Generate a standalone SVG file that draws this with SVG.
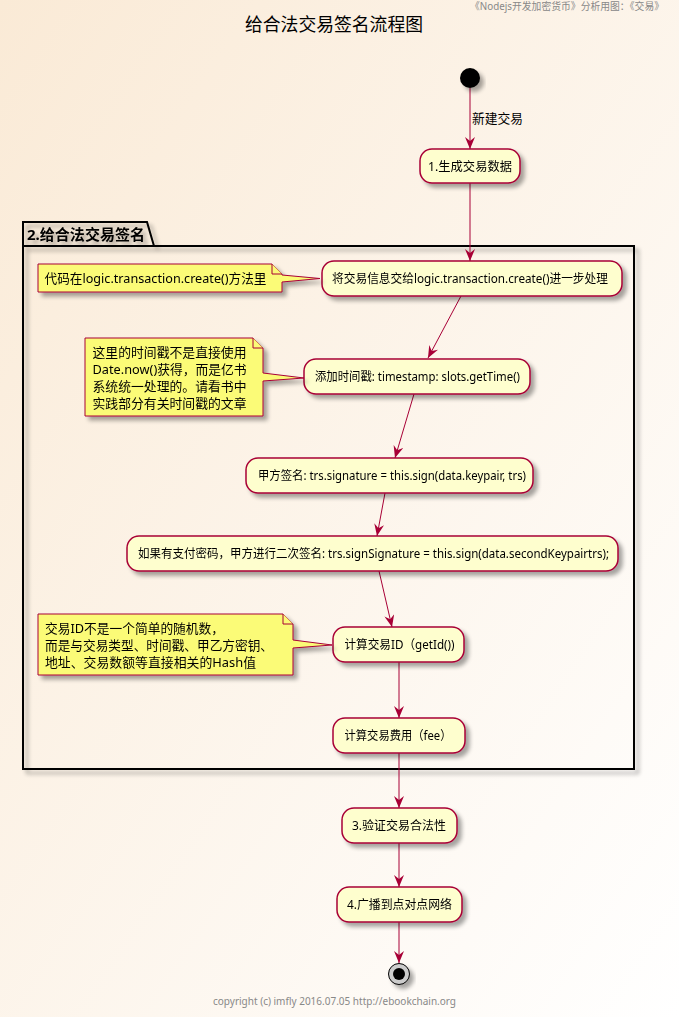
<svg xmlns="http://www.w3.org/2000/svg" width="679" height="1017" viewBox="0 0 679 1017">
<defs>
<linearGradient id="bg" x1="0" y1="0" x2="1" y2="1">
<stop offset="0" stop-color="#FAEAD6"/>
<stop offset="1" stop-color="#FFFFFF"/>
</linearGradient>
<filter id="sh" x="-20%" y="-20%" width="150%" height="160%">
<feGaussianBlur in="SourceAlpha" stdDeviation="2"/>
<feOffset dx="4" dy="4" result="b"/>
<feComponentTransfer><feFuncA type="linear" slope="0.35"/></feComponentTransfer>
<feMerge><feMergeNode/><feMergeNode in="SourceGraphic"/></feMerge>
</filter>
<marker id="ah" viewBox="0 0 12 10" refX="12" refY="5" markerWidth="12" markerHeight="10" markerUnits="userSpaceOnUse" orient="auto">
<path d="M12,5 L0,0 L4,5 L0,10 Z" fill="#A80036"/>
</marker>
</defs>
<style>
text{font-family:"Noto Sans","Noto Sans CJK SC",sans-serif;fill:#000}
.act rect{fill:#FEFECE;stroke:#A80036;stroke-width:1.5}
.act text{font-size:12.5px}
.note path{fill:#FBFB77;stroke:#A80036;stroke-width:1}
.note text{font-size:13px}
.conn line{stroke:#A80036;stroke-width:1;marker-end:url(#ah)}
</style>
<rect width="679" height="1017" fill="url(#bg)"/>
<text x="470" y="10" font-size="10" style="fill:#888" textLength="194" lengthAdjust="spacingAndGlyphs">《Nodejs开发加密货币》分析用图：《交易》</text>
<text x="245" y="31" font-size="18" textLength="178" lengthAdjust="spacingAndGlyphs">给合法交易签名流程图</text>

<g id="partition" filter="url(#sh)">
<path d="M23,246 L23,222 L147,222 L154,246 L634,246 L634,769 L23,769 Z" fill="none" stroke="#000" stroke-width="2"/>
<line x1="23" y1="246" x2="154" y2="246" stroke="#000" stroke-width="2"/>
<text x="27" y="240" font-size="15" font-weight="bold" textLength="118" lengthAdjust="spacingAndGlyphs">2.给合法交易签名</text>
</g>

<g id="conns" class="conn">
<line x1="470" y1="88" x2="470" y2="149"/>
<line x1="470" y1="183" x2="470" y2="261"/>
<line x1="461" y1="296" x2="428" y2="358"/>
<line x1="414" y1="394" x2="395" y2="458"/>
<line x1="385" y1="493" x2="377" y2="536"/>
<line x1="379" y1="571" x2="392" y2="627"/>
<line x1="399" y1="662" x2="399" y2="718"/>
<line x1="399" y1="753" x2="399" y2="808"/>
<line x1="399" y1="843" x2="399" y2="887"/>
<line x1="399" y1="922" x2="399" y2="963"/>
<text x="472" y="123" font-size="13" textLength="51" lengthAdjust="spacingAndGlyphs">新建交易</text>
</g>

<g id="start" filter="url(#sh)"><circle cx="470" cy="78" r="10" fill="#000"/></g>

<g id="n1" class="act" filter="url(#sh)"><rect x="420" y="149" width="100" height="34" rx="12"/><text x="428" y="171" textLength="84" lengthAdjust="spacingAndGlyphs">1.生成交易数据</text></g>

<g id="n2a" class="act" filter="url(#sh)"><rect x="322" y="261" width="300" height="35" rx="12"/><text x="332" y="283" textLength="276" lengthAdjust="spacingAndGlyphs">将交易信息交给logic.transaction.create()进一步处理</text></g>

<g id="note1" class="note" filter="url(#sh)"><path d="M38,264 L272,264 L282,274 L282,275 L320,278.5 L282,282 L282,292 L38,292 Z"/><path d="M272,264 L272,274 L282,274" fill="none" stroke="#A80036"/><text x="44.5" y="283" textLength="222" lengthAdjust="spacingAndGlyphs">代码在logic.transaction.create()方法里</text></g>

<g id="n2b" class="act" filter="url(#sh)"><rect x="304" y="359" width="226" height="35" rx="12"/><text x="315" y="381" textLength="205" lengthAdjust="spacingAndGlyphs">添加时间戳: timestamp: slots.getTime()</text></g>

<g id="note2" class="note" filter="url(#sh)"><path d="M85,338 L253,338 L263,348 L263,373 L304,378 L263,381 L263,416 L85,416 Z"/><path d="M253,338 L253,348 L263,348" fill="none" stroke="#A80036"/>
<text x="92.5" y="357" textLength="154" lengthAdjust="spacingAndGlyphs">这里的时间戳不是直接使用</text><text x="92.5" y="374" textLength="154" lengthAdjust="spacingAndGlyphs">Date.now()获得，而是亿书</text><text x="92.5" y="391" textLength="154" lengthAdjust="spacingAndGlyphs">系统统一处理的。请看书中</text><text x="92.5" y="408" textLength="154" lengthAdjust="spacingAndGlyphs">实践部分有关时间戳的文章</text></g>

<g id="n2c" class="act" filter="url(#sh)"><rect x="246" y="458" width="287" height="35" rx="12"/><text x="258" y="480" textLength="268" lengthAdjust="spacingAndGlyphs">甲方签名: trs.signature = this.sign(data.keypair, trs)</text></g>

<g id="n2d" class="act" filter="url(#sh)"><rect x="127" y="536" width="491" height="35" rx="12"/><text x="138" y="558" textLength="471" lengthAdjust="spacingAndGlyphs">如果有支付密码，甲方进行二次签名: trs.signSignature = this.sign(data.secondKeypairtrs);</text></g>

<g id="n2e" class="act" filter="url(#sh)"><rect x="333" y="627" width="131" height="35" rx="12"/><text x="344.5" y="649" textLength="110" lengthAdjust="spacingAndGlyphs">计算交易ID（getId())</text></g>

<g id="note3" class="note" filter="url(#sh)"><path d="M38,614 L283,614 L293,624 L293,640 L332,645 L293,648 L293,675 L38,675 Z"/><path d="M283,614 L283,624 L293,624" fill="none" stroke="#A80036"/>
<text x="45" y="633" textLength="179" lengthAdjust="spacingAndGlyphs">交易ID不是一个简单的随机数，</text><text x="45" y="650" textLength="228" lengthAdjust="spacingAndGlyphs">而是与交易类型、时间戳、甲乙方密钥、</text><text x="45" y="667" textLength="211" lengthAdjust="spacingAndGlyphs">地址、交易数额等直接相关的Hash值</text></g>

<g id="n2f" class="act" filter="url(#sh)"><rect x="333" y="718" width="132" height="35" rx="12"/><text x="344.5" y="740" textLength="107" lengthAdjust="spacingAndGlyphs">计算交易费用（fee）</text></g>

<g id="n3" class="act" filter="url(#sh)"><rect x="342" y="808" width="115" height="35" rx="12"/><text x="352" y="830" textLength="94" lengthAdjust="spacingAndGlyphs">3.验证交易合法性</text></g>

<g id="n4" class="act" filter="url(#sh)"><rect x="337" y="887" width="125" height="35" rx="12"/><text x="347" y="909" textLength="105" lengthAdjust="spacingAndGlyphs">4.广播到点对点网络</text></g>

<g id="end" filter="url(#sh)"><circle cx="399" cy="974" r="10.5" fill="#ccc" stroke="#000" stroke-width="1"/><circle cx="399" cy="974" r="6" fill="#000"/></g>

<text x="213" y="1005" font-size="10" style="fill:#888" textLength="243" lengthAdjust="spacingAndGlyphs">copyright (c) imfly 2016.07.05 http://ebookchain.org</text>
</svg>
